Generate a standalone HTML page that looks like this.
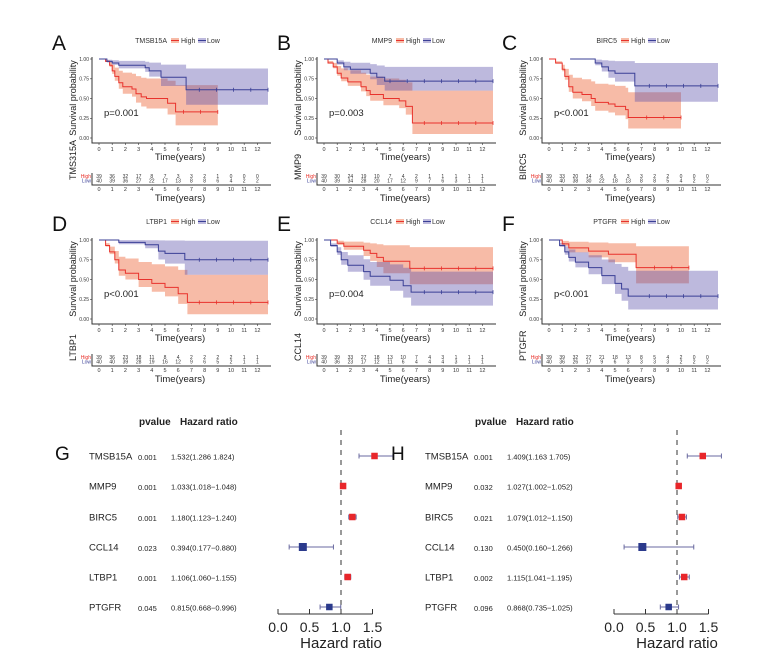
<!DOCTYPE html>
<html><head><meta charset="utf-8"><style>
html,body{margin:0;padding:0;background:#fff;}
svg{display:block;font-family:"Liberation Sans",Arial,sans-serif;}
</style></head><body>
<svg id="s" width="770" height="666" viewBox="0 0 770 666" xmlns="http://www.w3.org/2000/svg"></svg>
<script>
const S=document.getElementById('s');let h='';
const RED='#e8322c',BLUE='#3a3f96',RF='rgba(240,120,80,0.5)',BF='rgba(90,80,170,0.4)';
const panels=[
{L:'A',g:'TMSB15A',tg:'TMS315A',p:'p=0.001',
 r:[[0,1],[0.5,.97],[0.8,.92],[1,.85],[1.2,.78],[1.5,.7],[1.8,.65],[2.5,.62],[2.8,.56],[3.2,.52],[3.6,.5],[5.2,.44],[5.8,.33]],re:9,rb:[.16,.67],
 b:[[0,1],[0.6,.97],[1,.95],[1.5,.92],[3.5,.89],[3.8,.85],[4.7,.77],[6.6,.61]],be:12.8,bb:[.42,.88],
 hi:[39,36,32,17,8,7,3,3,2,1,0,0,0],lo:[40,39,36,27,22,17,13,8,8,6,4,2,2]},
{L:'B',g:'MMP9',tg:'MMP9',p:'p=0.003',
 r:[[0,1],[0.3,.95],[0.7,.9],[1,.82],[1.3,.76],[1.8,.71],[2.8,.65],[3.2,.6],[3.5,.55],[4.5,.5],[5.7,.47],[6.2,.4],[6.7,.19]],re:12.8,rb:[.05,.6],
 b:[[0,1],[1,.95],[1.5,.9],[2,.87],[3.5,.82],[4,.77],[4.6,.72]],be:12.8,bb:[.6,.9],
 hi:[39,30,24,19,10,7,4,2,1,1,1,1,1],lo:[40,39,34,28,20,17,12,9,7,6,3,1,1]},
{L:'C',g:'BIRC5',tg:'BIRC5',p:'p<0.001',
 r:[[0,1],[0.5,.95],[1,.87],[1.2,.78],[1.5,.65],[1.8,.58],[2.5,.55],[3.2,.5],[3.5,.45],[4.5,.43],[5,.4],[5.8,.36],[6,.26]],re:10,rb:[.12,.58],
 b:[[0,1],[3.5,.95],[4,.9],[4.5,.85],[5,.82],[6.5,.66]],be:12.8,bb:[.46,.95],bs:1.6,
 hi:[39,33,20,14,6,6,3,3,2,2,0,0,0],lo:[40,40,38,30,22,18,13,8,8,5,4,2,2]},
{L:'D',g:'LTBP1',tg:'LTBP1',p:'p<0.001',
 r:[[0,1],[0.5,.93],[0.8,.85],[1.2,.75],[1.5,.62],[2,.58],[3,.5],[4,.45],[5,.4],[6,.32],[6.7,.21]],re:12.8,rb:[.06,.56],
 b:[[0,1],[1.5,.97],[3.5,.94],[4.5,.86],[5,.83],[6.5,.75]],be:12.8,bb:[.56,.99],
 hi:[39,36,23,18,11,8,4,2,2,2,2,1,1],lo:[40,40,39,28,19,16,12,9,6,5,2,1,1]},
{L:'E',g:'CCL14',tg:'CCL14',p:'p=0.004',
 r:[[0,1],[1,.96],[1.5,.92],[3,.87],[3.5,.83],[4,.78],[4.5,.73],[6.5,.64]],re:12.8,rb:[.44,.91],
 b:[[0,1],[0.5,.93],[1,.85],[1.3,.75],[1.8,.68],[3,.6],[3.5,.54],[5,.49],[6,.42],[6.6,.34]],be:12.8,bb:[.17,.6],
 hi:[39,39,33,27,18,13,10,7,4,3,1,1,1],lo:[40,36,23,17,12,11,6,4,4,4,3,1,1]},
{L:'F',g:'PTGFR',tg:'PTGFR',p:'p<0.001',
 r:[[0,1],[1,.95],[1.5,.9],[3,.86],[4.5,.82],[6.6,.65]],re:10.6,rb:[.45,.92],
 b:[[0,1],[0.8,.93],[1.2,.85],[1.5,.78],[2,.72],[3,.65],[4,.55],[5,.45],[5.5,.38],[6,.29]],be:12.8,bb:[.12,.61],
 hi:[39,39,32,27,21,18,13,8,5,4,2,0,0],lo:[40,36,26,17,9,6,3,3,3,3,2,2,2]}
];
function stepPath(pts,end,X,Y){let d='M'+X(pts[0][0])+' '+Y(pts[0][1]);
 for(let i=1;i<pts.length;i++){d+=' H'+X(pts[i][0])+' V'+Y(pts[i][1]);}
 d+=' H'+X(end);return d;}
function band(pts,end,bb,X,Y){
 const sEnd=pts[pts.length-1][1];const wu=bb[1]-sEnd,wl=sEnd-bb[0];
 const up=[],lo=[];
 pts.forEach(([t,s])=>{const f=Math.min(1,(1-s)/(1-sEnd+1e-6));up.push([t,Math.min(1,s+wu*f)]);lo.push([t,Math.max(0,s-wl*f)]);});
 let d='M'+X(up[0][0])+' '+Y(up[0][1]);
 for(let i=1;i<up.length;i++)d+=' H'+X(up[i][0])+' V'+Y(up[i][1]);
 d+=' H'+X(end)+' V'+Y(lo[lo.length-1][1]);
 for(let i=lo.length-1;i>=1;i--)d+=' H'+X(lo[i][0])+' V'+Y(lo[i-1][1]);
 d+=' H'+X(lo[0][0])+' Z';return d;}
panels.forEach((P,i)=>{
 const ox=(i%3)*225, oy=Math.floor(i/3)*181;
 const X=t=>(99+ox+t*13.2).toFixed(1), Y=s=>(138+oy-s*79).toFixed(1);
 h+=`<text x="${52+ox}" y="${50+oy}" font-size="21" fill="#111">${P.L}</text>`;
 h+=`<text x="${167+ox}" y="${43+oy}" font-size="7" fill="#333" text-anchor="end">${P.g}</text>`;
 h+=`<rect x="${171+ox}" y="${38+oy}" width="8" height="5" fill="${RF}"/><line x1="${171+ox}" y1="${40.5+oy}" x2="${179+ox}" y2="${40.5+oy}" stroke="${RED}"/>`;
 h+=`<text x="${181+ox}" y="${43+oy}" font-size="7" fill="#333">High</text>`;
 h+=`<rect x="${198+ox}" y="${38+oy}" width="8" height="5" fill="${BF}"/><line x1="${198+ox}" y1="${40.5+oy}" x2="${206+ox}" y2="${40.5+oy}" stroke="${BLUE}"/>`;
 h+=`<text x="${207+ox}" y="${43+oy}" font-size="7" fill="#333">Low</text>`;
 h+=`<path d="${band(P.r,P.re,P.rb,X,Y)}" fill="${RF}"/>`;
 const bpts=P.bs?[[P.bs,1]].concat(P.b.slice(1)):P.b;
 h+=`<path d="${band(bpts,P.be,P.bb,X,Y)}" fill="${BF}"/>`;
 h+=`<path d="${stepPath(P.r,P.re,X,Y)}" fill="none" stroke="${RED}" stroke-width="1"/>`;
 h+=`<path d="${stepPath(bpts,P.be,X,Y)}" fill="none" stroke="${BLUE}" stroke-width="1"/>`;
 [[P.re,P.r],[P.be,bpts]].forEach(([e,p],k)=>{const s=p[p.length-1][1];for(let t=e;t>p[p.length-1][0]+0.3;t-=1.3){h+=`<line x1="${X(t)}" y1="${(+Y(s)-2).toFixed(1)}" x2="${X(t)}" y2="${(+Y(s)+2).toFixed(1)}" stroke="${k?BLUE:RED}" stroke-width="0.8"/>`;}});
 h+=`<path d="M${92+ox} ${57+oy} V${143+oy} H${271+ox}" fill="none" stroke="#333" stroke-width="1"/>`;
 [1,.75,.5,.25,0].forEach(v=>{h+=`<text x="${89+ox}" y="${+Y(v)+1.8}" font-size="5" fill="#333" text-anchor="end">${v.toFixed(2)}</text><line x1="${90+ox}" x2="${92+ox}" y1="${Y(v)}" y2="${Y(v)}" stroke="#333" stroke-width=".6"/>`;});
 for(let t=0;t<=12;t++){h+=`<line x1="${X(t)}" x2="${X(t)}" y1="${143+oy}" y2="${145+oy}" stroke="#333" stroke-width=".6"/><text x="${X(t)}" y="${151+oy}" font-size="5.5" fill="#333" text-anchor="middle">${t}</text>`;}
 h+=`<text x="${180+ox}" y="${160+oy}" font-size="9.5" fill="#222" text-anchor="middle">Time(years)</text>`;
 h+=`<text transform="translate(${76+ox},${98+oy}) rotate(-90)" font-size="9" fill="#222" text-anchor="middle">Survival probability</text>`;
 h+=`<text x="${104+ox}" y="${116+oy}" font-size="9.5" fill="#222">${P.p}</text>`;
 h+=`<text transform="translate(${76+ox},${180+oy}) rotate(-90)" font-size="9" fill="#222">${P.tg}</text>`;
 h+=`<text x="${91+ox}" y="${178+oy}" font-size="5" fill="${RED}" text-anchor="end">High</text><text x="${91+ox}" y="${182.5+oy}" font-size="5" fill="${BLUE}" text-anchor="end">Low</text>`;
 for(let t=0;t<=12;t++){h+=`<text x="${X(t)}" y="${178+oy}" font-size="5" fill="#333" text-anchor="middle">${P.hi[t]}</text><text x="${X(t)}" y="${182.5+oy}" font-size="5" fill="#333" text-anchor="middle">${P.lo[t]}</text><text x="${X(t)}" y="${191+oy}" font-size="5.5" fill="#333" text-anchor="middle">${t}</text>`;}
 h+=`<path d="M${92+ox} ${173+oy} V${185+oy} H${271+ox}" fill="none" stroke="#333" stroke-width="1"/>`;
 h+=`<text x="${180+ox}" y="${201+oy}" font-size="9.5" fill="#222" text-anchor="middle">Time(years)</text>`;
});
const F=[
 {L:'G',ox:0,rows:[['TMSB15A','0.001','1.532(1.286 1.824)',1.532,1.286,1.824],['MMP9','0.001','1.033(1.018\u22121.048)',1.033,1.018,1.048],['BIRC5','0.001','1.180(1.123\u22121.240)',1.18,1.123,1.24],['CCL14','0.023','0.394(0.177\u22120.880)',.394,.177,.88],['LTBP1','0.001','1.106(1.060\u22121.155)',1.106,1.06,1.155],['PTGFR','0.045','0.815(0.668\u22120.996)',.815,.668,.996]]},
 {L:'H',ox:336,rows:[['TMSB15A','0.001','1.409(1.163 1.705)',1.409,1.163,1.705],['MMP9','0.032','1.027(1.002\u22121.052)',1.027,1.002,1.052],['BIRC5','0.021','1.079(1.012\u22121.150)',1.079,1.012,1.15],['CCL14','0.130','0.450(0.160\u22121.266)',.45,.16,1.266],['LTBP1','0.002','1.115(1.041\u22121.195)',1.115,1.041,1.195],['PTGFR','0.096','0.868(0.735\u22121.025)',.868,.735,1.025]]}];
const ry=[456,486,517,547,577,607];
F.forEach(G=>{const o=G.ox,X=v=>278+o+v*63;
 h+=`<text x="${55+o}" y="${460}" font-size="19" fill="#111">${G.L}</text>`;
 h+=`<text x="${139+o}" y="425" font-size="10" font-weight="bold" fill="#222">pvalue</text><text x="${180+o}" y="425" font-size="10" font-weight="bold" fill="#222">Hazard ratio</text>`;
 h+=`<line x1="${X(1)}" x2="${X(1)}" y1="430" y2="614" stroke="#333" stroke-dasharray="5,5" stroke-width="1"/>`;
 G.rows.forEach((r,i)=>{const y=ry[i];const c=r[3]>1?'#e8262a':'#2b3a8c';
  h+=`<text x="${89+o}" y="${y+3.5}" font-size="9.5" fill="#222">${r[0]}</text><text x="${138+o}" y="${y+4}" font-size="7.5" fill="#222">${r[1]}</text><text x="${171+o}" y="${y+3.5}" font-size="7.5" fill="#222">${r[2]}</text>`;
  h+=`<line x1="${X(r[4])}" x2="${X(r[5])}" y1="${y}" y2="${y}" stroke="#6a6aa0" stroke-width="1"/><line x1="${X(r[4])}" x2="${X(r[4])}" y1="${y-2.5}" y2="${y+2.5}" stroke="#6a6aa0"/><line x1="${X(r[5])}" x2="${X(r[5])}" y1="${y-2.5}" y2="${y+2.5}" stroke="#6a6aa0"/>`;
  const sz=r[3]<0.5?8:6.5;h+=`<rect x="${X(r[3])-sz/2}" y="${y-sz/2}" width="${sz}" height="${sz}" fill="${c}"/>`;});
 h+=`<line x1="${X(0)}" x2="${X(1.5)}" y1="614" y2="614" stroke="#333"/>`;
 [0,.5,1,1.5].forEach(v=>{h+=`<line x1="${X(v)}" x2="${X(v)}" y1="609" y2="614" stroke="#333"/><text x="${X(v)}" y="632" font-size="14" fill="#222" text-anchor="middle">${v.toFixed(1)}</text>`;});
 h+=`<text x="${X(1)}" y="648" font-size="15" fill="#222" text-anchor="middle">Hazard ratio</text>`;
});
S.innerHTML=h;
</script>
</body></html>
